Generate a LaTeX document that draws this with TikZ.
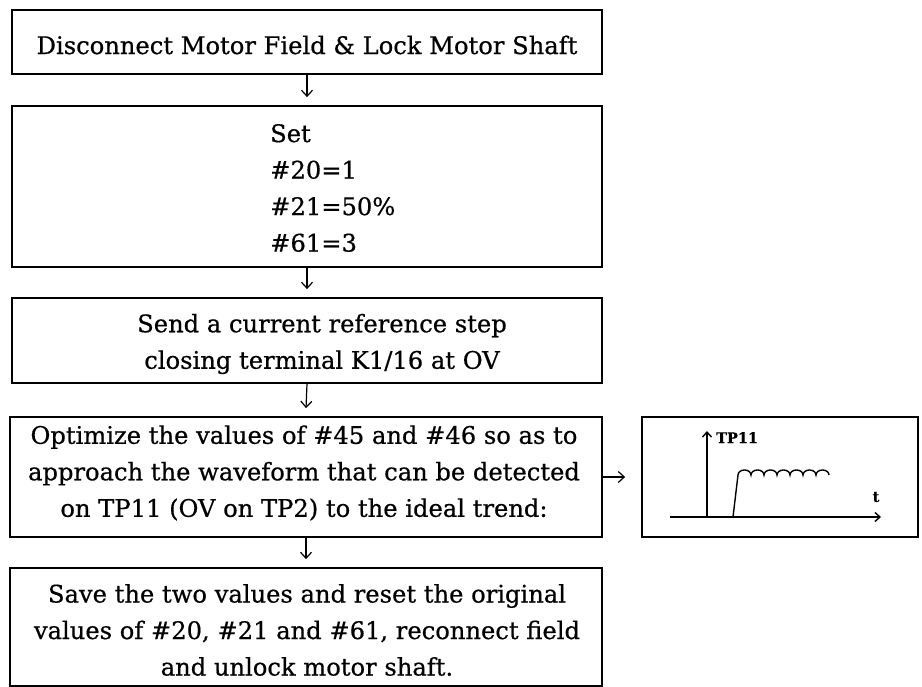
\documentclass[tikz,border=0pt]{standalone}
\usepackage{fontspec}
\setmainfont[FakeBold=0.6]{DejaVu Serif}
\usetikzlibrary{arrows.meta}
\begin{document}
\begin{tikzpicture}[x=1pt,y=-1pt,
  box/.style={draw, line width=1.7pt, inner sep=0pt},
  txt/.style={font=\fontsize{24.2}{36.5}\selectfont, align=center, inner sep=0pt},
  flow/.style={line width=1.2pt, -{Straight Barb[length=6pt,width=11pt,line width=1.2pt]}},
  axis/.style={line width=1.4pt, -{Straight Barb[length=5pt,width=9pt,line width=1.4pt]}},
  small/.style={font=\bfseries\fontsize{14.5}{14.5}\selectfont, inner sep=0pt}]
\useasboundingbox[fill=white] (0,0) rectangle (922,687);
% flow boxes
\node[box, minimum width=590pt, minimum height=64pt]  (b1) at (307,42) {};
\node[box, minimum width=590pt, minimum height=161pt] (b2) at (307,186.5) {};
\node[box, minimum width=590pt, minimum height=85pt]  (b3) at (307,340.5) {};
\node[box, minimum width=592pt, minimum height=120pt] (b4) at (306,477) {};
\node[box, minimum width=592pt, minimum height=118pt] (b5) at (306,627) {};
% texts
\node[txt] (t1) at (307,45) {Disconnect Motor Field \& Lock Motor Shaft};
\node[txt, align=left, anchor=west] (t2) at (270,188) {Set\\\#20=1\\\#21=50\%\\\#61=3};
\node[txt] (t3) at (322,344) {Send a current reference step\\closing terminal K1/16 at OV};
\node[txt] (t4) at (304,473) {Optimize the values of \#45 and \#46 so as to\\approach the waveform that can be detected\\on TP11 (OV on TP2) to the ideal trend:};
\node[txt] (t5) at (307,630) {Save the two values and reset the original\\values of \#20, \#21 and \#61, reconnect field\\and unlock motor shaft.};
% connectors
\draw[flow] (b1.south) -- ([yshift=8pt]b2.north);
\draw[flow] (b2.south) -- ([yshift=8pt]b3.north);
\draw[flow] (b3.south) -- ([yshift=8pt]b4.north);
\draw[flow] (b4.south) -- ([yshift=8pt]b5.north);
% waveform box
\node[box, minimum width=276pt, minimum height=120pt] (w) at (780,477) {};
\draw[flow] (b4.east) -- ([xshift=-16pt]w.west);
\draw[axis] (670,517) -- (881,517);
\draw[axis] (707,517) -- (707,431);
\node[small, anchor=base west] (tp) at (716,443) {TP11};
\node[small] (tt) at (876,497) {t};
\draw[line width=1.4pt] (733,517) -- (738,475)
  arc[start angle=180,end angle=0,x radius=6.5pt,y radius=5pt]
  arc[start angle=180,end angle=0,x radius=6.5pt,y radius=5pt]
  arc[start angle=180,end angle=0,x radius=6.5pt,y radius=5pt]
  arc[start angle=180,end angle=0,x radius=6.5pt,y radius=5pt]
  arc[start angle=180,end angle=0,x radius=6.5pt,y radius=5pt]
  arc[start angle=180,end angle=0,x radius=6.5pt,y radius=5pt]
  arc[start angle=180,end angle=0,x radius=6.5pt,y radius=5pt];
\end{tikzpicture}
\end{document}
